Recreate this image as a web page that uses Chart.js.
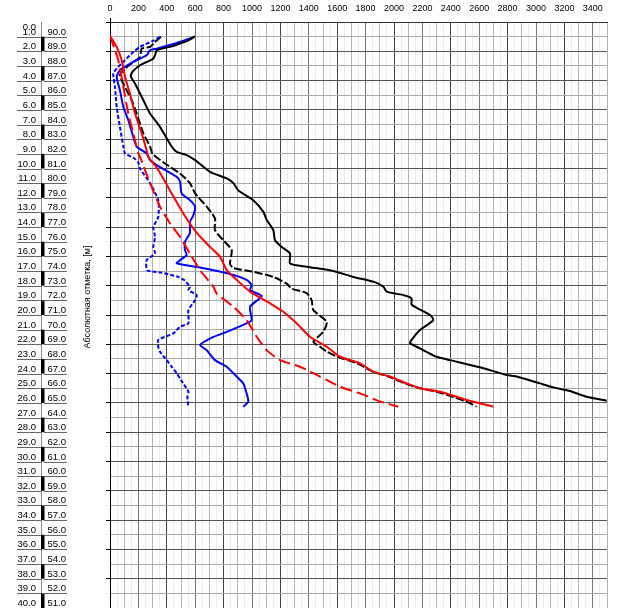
<!DOCTYPE html>
<html>
<head>
<meta charset="utf-8">
<script src="https://cdn.jsdelivr.net/npm/chart.js@4"></script>
<style>
  body { margin: 0; background: #fff; }
  #wrap { width: 621px; height: 608px; position: relative; }
</style>
</head>
<body>
<div id="wrap"><canvas id="myChart"></canvas></div>
<script>
/* tick labels */
let xLabels = [0, 200, 400, 600, 800, 1000, 1200, 1400, 1600, 1800, 2000, 2200, 2400, 2600, 2800, 3000, 3200, 3400];
let depthLabels = [];
let elevLabels = [];
for (let d = 0; d <= 40; d++) {
  depthLabels.push(d.toFixed(1));
  elevLabels.push((91 - d).toFixed(1));
}
let yTitle = "Абсолютная отметка, [м]";

/* series: depth (m) and value */
let blackSolidDepth = [0.98, 1.25, 1.48, 1.7, 1.82, 1.93, 2.27, 2.5, 2.73, 2.95, 3.34, 3.7, 4.2, 5.34, 6.25, 7.16, 8.5, 8.87, 9.09, 9.43, 10.23, 10.68, 11.0, 11.5, 12.16, 12.96, 13.5, 14.2, 14.9, 15.35, 15.8, 16.48, 16.7, 17.0, 17.4, 17.74, 18.07, 18.4, 18.65, 18.87, 19.3, 20.0, 20.35, 21.03, 21.7, 21.93, 22.28, 22.85, 23.08, 23.57, 24.1, 24.2, 24.67, 24.94, 25.19, 25.58, 25.85];
let blackSolidVal = [599, 552, 493, 423, 364, 329, 317, 305, 258, 211, 164, 146, 176, 235, 282, 352, 434, 470, 540, 599, 704, 822, 869, 904, 1009, 1080, 1103, 1150, 1162, 1209, 1268, 1268, 1385, 1573, 1714, 1860, 1925, 1949, 2070, 2124, 2124, 2254, 2277, 2183, 2124, 2113, 2183, 2300, 2394, 2606, 2794, 2864, 3028, 3122, 3239, 3357, 3498];

let blackDashDepth = [1.0, 1.36, 1.7, 1.82, 2.39, 2.73, 3.18, 3.64, 4.66, 5.34, 6.25, 7.6, 8.5, 9.0, 9.66, 10.34, 11.0, 11.7, 12.6, 13.4, 14.2, 14.9, 15.57, 16.5, 16.8, 17.05, 17.4, 17.85, 18.2, 18.5, 19.0, 19.67, 20.46, 21.15, 21.83, 22.17, 22.5, 22.85, 23.3, 23.87, 24.2, 24.67, 25.0, 25.24, 25.6, 26.0, 26.26];
let blackDashVal = [359, 317, 282, 223, 211, 164, 106, 70, 117, 153, 188, 235, 282, 300, 387, 493, 563, 599, 681, 739, 739, 798, 857, 845, 869, 1009, 1150, 1244, 1279, 1385, 1420, 1432, 1526, 1502, 1432, 1479, 1526, 1600, 1740, 1850, 1960, 2080, 2180, 2300, 2420, 2530, 2582];

let blueSolidDepth = [1.0, 1.43, 1.82, 1.93, 2.27, 2.73, 3.3, 3.75, 4.66, 5.8, 6.7, 7.85, 8.5, 8.98, 9.43, 9.9, 10.57, 10.9, 11.7, 12.16, 12.6, 13.2, 13.64, 14.4, 15.0, 15.57, 15.9, 16.26, 16.48, 16.76, 17.2, 17.6, 17.96, 18.3, 18.7, 19.44, 20.35, 20.57, 21.15, 21.5, 22.05, 22.4, 23.08, 23.53, 24.2, 24.67, 25.35, 25.9, 26.27];
let blueSolidVal = [599, 470, 329, 282, 258, 164, 70, 47, 70, 94, 129, 164, 188, 258, 282, 352, 470, 493, 505, 563, 599, 587, 563, 563, 528, 528, 540, 493, 470, 634, 845, 962, 998, 986, 1068, 986, 998, 962, 822, 728, 634, 681, 739, 822, 892, 939, 962, 974, 939];

let blueDotDepth = [1.02, 1.3, 1.7, 2.05, 2.6, 3.18, 3.52, 4.43, 5.8, 7.16, 8.5, 8.98, 9.3, 9.6, 10.0, 11.0, 12.16, 13.3, 14.0, 14.67, 15.35, 15.8, 16.26, 16.94, 17.1, 17.4, 17.6, 18.07, 18.3, 18.65, 19.0, 19.67, 20.57, 20.8, 21.26, 21.7, 22.17, 22.5, 23.08, 23.53, 23.98, 24.44, 25.24, 25.6, 26.26];
let blueDotVal = [352, 300, 211, 164, 106, 47, 23, 35, 47, 70, 94, 106, 170, 200, 211, 282, 340, 340, 305, 317, 305, 317, 258, 262, 360, 480, 520, 563, 552, 611, 599, 552, 552, 493, 446, 340, 340, 352, 399, 434, 470, 500, 552, 545, 552];

let redSolidDepth = [0.95, 1.7, 2.6, 3.75, 4.9, 6.25, 7.6, 8.75, 9.2, 10.1, 11.7, 13.07, 14.4, 15.35, 16.03, 16.94, 17.6, 18.4, 19.2, 19.78, 20.57, 21.48, 22.17, 22.85, 23.3, 23.87, 24.2, 24.67, 25.0, 25.24, 25.8, 26.26];
let redSolidVal = [0, 47, 82, 106, 141, 176, 223, 258, 270, 340, 434, 516, 611, 704, 775, 822, 892, 986, 1127, 1220, 1314, 1408, 1526, 1620, 1761, 1854, 1972, 2089, 2183, 2324, 2512, 2699];

let redDashDepth = [0.95, 1.59, 2.6, 4.43, 6.25, 7.6, 8.98, 9.2, 11.0, 12.6, 13.75, 14.67, 15.8, 16.94, 18.07, 18.53, 19.44, 20.35, 21.48, 22.4, 23.08, 23.53, 24.2, 24.9, 25.35, 25.9, 26.26];
let redDashVal = [0, 23, 58, 94, 129, 164, 200, 211, 282, 352, 423, 493, 563, 634, 728, 751, 869, 962, 1033, 1103, 1197, 1338, 1479, 1620, 1761, 1901, 2030];

function toPoints(depth, val) {
  return depth.map((d, i) => ({ x: val[i], y: d }));
}

function lineSet(depth, val, color, dash) {
  return {
    data: toPoints(depth, val),
    showLine: true,
    borderColor: color,
    backgroundColor: color,
    borderWidth: 2,
    borderDash: dash,
    pointRadius: 0,
    tension: 0.2,
    fill: false
  };
}

/* left column: depth / elevation labels, bars, rotated title */
let leftColumn = {
  id: "leftColumn",
  afterDraw(chart) {
    let ctx = chart.ctx;
    let y = chart.scales.y;
    let top = chart.chartArea.top;
    let bottom = chart.chartArea.bottom;
    ctx.save();
    ctx.font = "9.5px 'Liberation Sans', Arial, sans-serif";
    ctx.fillStyle = "#000";
    ctx.textBaseline = "alphabetic";

    // column border
    ctx.strokeStyle = "#888";
    ctx.lineWidth = 1;
    ctx.beginPath();
    ctx.moveTo(41.5, top);
    ctx.lineTo(41.5, bottom);
    ctx.stroke();

    // black bars
    for (let d = 1; d < 40; d += 2) {
      let y1 = y.getPixelForValue(d);
      let y2 = y.getPixelForValue(d + 1);
      ctx.fillStyle = "#000";
      ctx.fillRect(41, y1, 3.5, y2 - y1);
    }

    depthLabels.forEach((lab, d) => {
      let py = y.getPixelForValue(d);
      ctx.fillStyle = "#000";
      ctx.textAlign = "right";
      if (d === 0) {
        ctx.fillText(lab, 36, top + 8);
        return;
      }
      ctx.fillText(lab, 36, py - 2);
      ctx.fillText(elevLabels[d], 66, py - 2);
      ctx.strokeStyle = "#666";
      ctx.beginPath();
      ctx.moveTo(17, Math.round(py) + 0.5);
      ctx.lineTo(41, Math.round(py) + 0.5);
      ctx.moveTo(44, Math.round(py) + 0.5);
      ctx.lineTo(67, Math.round(py) + 0.5);
      ctx.stroke();
    });

    // y axis line extends above the plot
    ctx.strokeStyle = "#000";
    ctx.beginPath();
    ctx.moveTo(chart.chartArea.left + 0.5, top - 4);
    ctx.lineTo(chart.chartArea.left + 0.5, top);
    ctx.stroke();

    // rotated title
    ctx.font = "9px 'Liberation Sans', Arial, sans-serif";
    ctx.translate(88, 297);
    ctx.rotate(-Math.PI / 2);
    ctx.textAlign = "center";
    ctx.textBaseline = "middle";
    ctx.fillStyle = "#000";
    ctx.fillText(yTitle, 0, 0);
    ctx.restore();
  }
};

function vGridColor(v) {
  if (v % 400 === 0) return "#444";
  if (v % 200 === 0) return "#777";
  if (v % 100 === 0) return "#b4b4b4";
  return "#ebebeb";
}

let ctx = document.getElementById("myChart").getContext("2d");
let my_chart = new Chart(ctx, {
  type: "scatter",
  data: {
    datasets: [
      lineSet(redSolidDepth, redSolidVal, "#ff0000", []),
      lineSet(redDashDepth, redDashVal, "#ff0000", [12, 5]),
      lineSet(blackSolidDepth, blackSolidVal, "#000000", []),
      lineSet(blueSolidDepth, blueSolidVal, "#0000ff", []),
      lineSet(blueDotDepth, blueDotVal, "#0000ff", [4, 2]),
      lineSet(blackDashDepth, blackDashVal, "#000000", [8, 2.5])
    ]
  },
  options: {
    responsive: true,
    maintainAspectRatio: false,
    animation: false,
    layout: { padding: { left: 0, right: 14, top: 0, bottom: 0 } },
    plugins: {
      legend: { display: false },
      tooltip: { enabled: false }
    },
    scales: {
      x: {
        type: "linear",
        position: "top",
        min: 0,
        max: 3500,
        afterFit(scale) { scale.height = 22; },
        border: { display: true, color: "#333", width: 1 },
        grid: {
          drawTicks: false,
          color: c => vGridColor(c.tick.value)
        },
        ticks: {
          stepSize: 50,
          maxTicksLimit: 200,
          autoSkip: false,
          maxRotation: 0,
          padding: 8,
          color: "#000",
          font: { family: "'Liberation Sans', Arial, sans-serif", size: 9 },
          callback: v => xLabels.includes(v) ? String(v) : ""
        }
      },
      y: {
        type: "linear",
        reverse: true,
        min: 0,
        max: 40,
        afterFit(scale) { scale.width = 110; },
        border: { display: true, color: "#000", width: 1 },
        grid: {
          drawTicks: true,
          tickLength: 4,
          tickColor: c => c.tick.value % 2 === 0 ? "#000" : "rgba(0,0,0,0)",
          color: c => c.tick.value % 2 === 0 ? "#555" : "#aaa"
        },
        ticks: {
          display: false,
          stepSize: 1,
          maxTicksLimit: 100,
          autoSkip: false
        }
      }
    }
  },
  plugins: [leftColumn]
});
</script>
</body>
</html>
